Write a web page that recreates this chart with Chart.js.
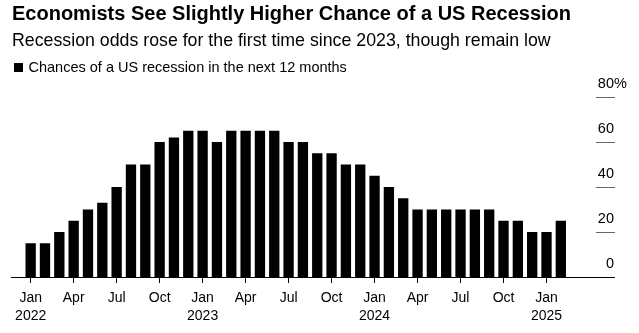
<!DOCTYPE html>
<html>
<head>
<meta charset="utf-8">
<script src="https://cdn.jsdelivr.net/npm/chart.js@4.4.1/dist/chart.umd.min.js"></script>
<style>
    html, body { margin: 0; padding: 0; background: #fff; }
    #wrap { width: 639px; height: 333px; }
</style>
</head>
<body>
<div id="wrap"><canvas id="chart" width="639" height="333"></canvas></div>
<script>
const months = [
    'Jan 2022', 'Feb 2022', 'Mar 2022', 'Apr 2022', 'May 2022', 'Jun 2022',
    'Jul 2022', 'Aug 2022', 'Sep 2022', 'Oct 2022', 'Nov 2022', 'Dec 2022',
    'Jan 2023', 'Feb 2023', 'Mar 2023', 'Apr 2023', 'May 2023', 'Jun 2023',
    'Jul 2023', 'Aug 2023', 'Sep 2023', 'Oct 2023', 'Nov 2023', 'Dec 2023',
    'Jan 2024', 'Feb 2024', 'Mar 2024', 'Apr 2024', 'May 2024', 'Jun 2024',
    'Jul 2024', 'Aug 2024', 'Sep 2024', 'Oct 2024', 'Nov 2024', 'Dec 2024',
    'Jan 2025', 'Feb 2025'
];

// Chances of a US recession in the next 12 months (%)
const recessionOdds = [
    15, 15, 20, 25, 30, 33, 40, 50, 50, 60, 62, 65,
    65, 60, 65, 65, 65, 65, 60, 60, 55, 55, 50, 50,
    45, 40, 35, 30, 30, 30, 30, 30, 30, 25, 25, 20,
    20, 25
];

const quarterMonths = ['Jan', 'Apr', 'Jul', 'Oct'];
const yTicks = [0, 20, 40, 60, 80];

const FONT = "'Liberation Sans', Arial, sans-serif";

// legend key, baseline, short right-hand gridlines and the % after the top label
const axisDecor = {
    id: 'axisDecor',
    afterDraw(chart) {
        const { ctx } = chart;
        const y = chart.scales.y;
        const ds = chart.data.datasets[0];
        ctx.save();

        // legend key under the subtitle
        ctx.fillStyle = ds.backgroundColor;
        ctx.fillRect(14, 63, 9, 9);
        ctx.font = `14.5px ${FONT}`;
        ctx.fillStyle = '#000';
        ctx.textAlign = 'left';
        ctx.textBaseline = 'alphabetic';
        ctx.fillText(ds.label, 28.5, 71.7);

        ctx.lineWidth = 1;
        ctx.strokeStyle = '#000';
        const base = Math.round(y.getPixelForValue(0)) + 0.5;
        ctx.beginPath();
        ctx.moveTo(11, base);
        ctx.lineTo(y.right + 1, base);
        ctx.stroke();

        ctx.strokeStyle = '#666';
        yTicks.filter(v => v > 0).forEach(v => {
            const py = Math.round(y.getPixelForValue(v)) + 0.5;
            ctx.beginPath();
            ctx.moveTo(y.right - 18, py);
            ctx.lineTo(y.right + 1, py);
            ctx.stroke();
        });

        ctx.textBaseline = 'middle';
        ctx.fillText('%', y.right, y.getPixelForValue(80) + y.options.ticks.labelOffset);
        ctx.restore();
    }
};

new Chart(document.getElementById('chart'), {
    type: 'bar',
    data: {
        labels: months,
        datasets: [{
            label: 'Chances of a US recession in the next 12 months',
            data: recessionOdds,
            backgroundColor: '#000',
            barPercentage: 0.72,
            categoryPercentage: 1
        }]
    },
    options: {
        responsive: false,
        animation: false,
        layout: { padding: { left: 12, right: 25, top: 0, bottom: 0 } },
        plugins: {
            title: {
                display: true,
                text: 'Economists See Slightly Higher Chance of a US Recession',
                align: 'start',
                color: '#000',
                font: { family: FONT, size: 20, weight: 'bold' },
                padding: { top: 2.5, bottom: 4 }
            },
            subtitle: {
                display: true,
                text: 'Recession odds rose for the first time since 2023, though remain low',
                align: 'start',
                color: '#000',
                font: { family: FONT, size: 17.75 },
                padding: { top: 0, bottom: 45.2 }
            },
            legend: { display: false },
            tooltip: { enabled: false }
        },
        scales: {
            x: {
                grid: {
                    display: true,
                    offset: false,
                    drawOnChartArea: false,
                    drawTicks: true,
                    tickLength: 6,
                    tickColor: ctx => ctx.index % 3 === 0 ? '#000' : 'rgba(0,0,0,0)'
                },
                border: { display: false },
                ticks: {
                    autoSkip: false,
                    maxRotation: 0,
                    padding: 6.5,
                    color: '#000',
                    font: { family: FONT, size: 14, lineHeight: 1.25 },
                    callback(value) {
                        const [m, yr] = this.getLabelForValue(value).split(' ');
                        if (!quarterMonths.includes(m)) return '';
                        return m === 'Jan' ? [m, yr] : m;
                    }
                },
                afterFit(scale) {
                    scale.paddingLeft = 23.5;
                    scale.height = 56;
                }
            },
            y: {
                position: 'right',
                min: 0,
                max: 80,
                grid: { display: false, drawTicks: false },
                border: { display: false },
                ticks: {
                    stepSize: 20,
                    crossAlign: 'far',
                    padding: 0,
                    labelOffset: -13,
                    color: '#000',
                    font: { family: FONT, size: 14.5 }
                },
                afterFit(scale) {
                    scale.width = 46;
                }
            }
        }
    },
    plugins: [axisDecor]
});
</script>
</body>
</html>
